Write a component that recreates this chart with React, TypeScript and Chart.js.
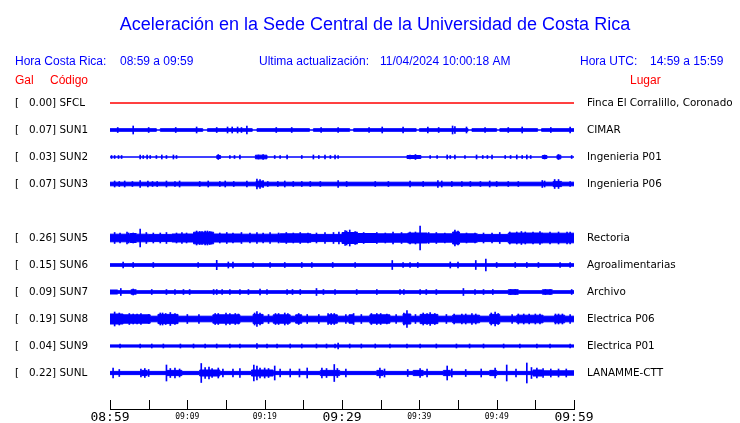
import React, { useEffect, useRef } from 'react';
import { Chart, registerables } from 'chart.js';

Chart.register(...registerables);

const TITLE = 'Aceleración en la Sede Central de la Universidad de Costa Rica';
const HEADER_LOCAL_LABEL = 'Hora Costa Rica:';
const HEADER_LOCAL_RANGE = '08:59 a 09:59';
const HEADER_UPDATE_LABEL = 'Ultima actualización:';
const HEADER_UPDATE_VALUE = '11/04/2024 10:00:18 AM';
const HEADER_UTC_LABEL = 'Hora UTC:';
const HEADER_UTC_RANGE = '14:59 a 15:59';

const CODES = ['SFCL', 'SUN1', 'SUN2', 'SUN3', 'SUN5', 'SUN6', 'SUN7', 'SUN8', 'SUN9', 'SUNL'];
const PEAK_GAL = [0.0, 0.07, 0.03, 0.07, 0.26, 0.15, 0.09, 0.19, 0.04, 0.22];
const PLACES = [
  'Finca El Corralillo, Coronado', 'CIMAR', 'Ingenieria P01', 'Ingenieria P06', 'Rectoria',
  'Agroalimentarias', 'Archivo', 'Electrica P06', 'Electrica P01', 'LANAMME-CTT',
];
const ROW_SLOTS = [0, 1, 2, 3, 5, 6, 7, 8, 9, 10];

// minutes after 08:59
const X_TICKS = [0, 5, 10, 15, 20, 25, 30, 35, 40, 45, 50, 55, 60];
const X_TICK_LABELS = ['08:59', '', '09:09', '', '09:19', '', '09:29', '', '09:39', '', '09:49', '', '09:59'];
const X_MAJOR_LABELS = ['08:59', '09:29', '09:59'];

// envelope breakpoints [minute, half amplitude] and spikes [minute, half amplitude]
const SFCL_ENV: [number, number][] = [[0, 0], [60, 0]];
const SFCL_SPIKES: [number, number][] = [];

const SUN1_ENV: [number, number][] = [[0, 1.3], [6.0, 0], [6.5, 1.3], [12.0, 0], [12.6, 1.3], [18.4, 0], [19.0, 1.3], [25.8, 0], [26.3, 1.3], [31.0, 0], [31.5, 1.3], [39.6, 0], [40.0, 1.3], [46.3, 0], [46.8, 1.3], [50.0, 0], [50.4, 1.3], [55.3, 0], [55.8, 1.3], [60, 1.3]];
const SUN1_SPIKES: [number, number][] = [[1.0, 2.5], [3.0, 4], [5.0, 2.5], [8.5, 2.5], [11.2, 3], [13.8, 2.5], [15.2, 3], [15.8, 3], [16.5, 3], [17.0, 2.5], [17.7, 4], [21.5, 2.5], [23.5, 2.5], [27.3, 2.5], [29.5, 2.5], [33.5, 2.5], [35.2, 3], [37.9, 3], [41.1, 3], [42.5, 2.5], [44.3, 4], [44.6, 3.5], [46.1, 3], [48.5, 2.5], [51.5, 2.5], [53.3, 3], [57.0, 2.5], [59.5, 3]];

const SUN2_ENV: [number, number][] = [[0, 0], [13.8, 1.5], [14.3, 0], [18.8, 1.8], [20.3, 0], [38.4, 1.5], [40.2, 0], [55.9, 1.5], [56.5, 0], [57.8, 1.8], [58.3, 0], [60, 0]];
const SUN2_SPIKES: [number, number][] = [[0.2, 1.5], [0.6, 1.5], [1.1, 1.5], [1.5, 1.5], [3.9, 2], [4.3, 1.5], [4.8, 2], [5.2, 1.5], [6.0, 1.5], [6.7, 2], [7.3, 1.5], [8.2, 2], [8.6, 1.5], [14.0, 2.5], [15.5, 1.5], [16.1, 1.5], [16.8, 2], [19.2, 2], [19.8, 2.5], [21.3, 1.5], [22.0, 1.5], [22.9, 2], [24.8, 1.5], [26.3, 2], [27.0, 1.5], [27.8, 2], [28.5, 1.5], [29.1, 2], [29.5, 1.5], [38.8, 2], [39.5, 2.5], [41.4, 1.5], [42.3, 1.5], [43.6, 2], [44.0, 1.5], [44.6, 2], [45.9, 1.5], [47.4, 2], [48.2, 1.5], [48.8, 1.5], [49.4, 2], [51.1, 1.5], [51.8, 1.5], [52.6, 2], [53.3, 1.5], [53.9, 2], [54.4, 1.5], [56.2, 2], [58.0, 2.5], [59.7, 1.5]];

const SUN3_ENV: [number, number][] = [[0, 1.8], [18.9, 2.8], [19.8, 1.8], [57.3, 2.6], [58.4, 1.8], [60, 1.8]];
const SUN3_SPIKES: [number, number][] = [[0.6, 3], [1.2, 2.5], [1.9, 3], [2.9, 2.5], [3.9, 3.5], [4.9, 3], [5.5, 2.5], [6.1, 2.5], [7.3, 3], [8.4, 2.5], [9.0, 3], [11.6, 2.5], [12.7, 3], [14.2, 2.5], [14.9, 3], [16.0, 2.5], [17.7, 3], [19.0, 5], [19.4, 4.5], [19.8, 3.5], [20.4, 2.5], [21.7, 2.5], [22.6, 3], [23.7, 2.5], [24.8, 2.5], [25.9, 2.5], [27.2, 2.5], [29.5, 3.5], [30.6, 2.5], [34.3, 2.5], [36.0, 2.5], [38.8, 3], [40.5, 2.5], [42.4, 3.5], [42.9, 3], [44.2, 2.5], [45.5, 2.5], [46.6, 2.5], [47.9, 2.5], [49.1, 3], [50.0, 2.5], [51.5, 2.5], [52.8, 2.5], [55.9, 3.5], [56.2, 3], [57.5, 4.5], [58.0, 4.5], [59.5, 2.5]];

const SUN5_ENV: [number, number][] = [[0, 3.8], [2.6, 4.5], [3.4, 3.8], [5.0, 3.6], [8.0, 4.0], [10.8, 5.8], [13.4, 4.0], [17.0, 3.8], [22.0, 4.2], [26.0, 3.6], [30.0, 5.5], [32.0, 4.5], [34.5, 4.2], [38.5, 5.0], [41.0, 4.2], [44.3, 6.0], [45.2, 4.2], [47.5, 3.6], [51.5, 5.0], [56.0, 4.8], [60, 4.8]];
const SUN5_SPIKES: [number, number][] = [[0.6, 5.5], [1.3, 5], [2.2, 6], [2.4, 5], [3.0, 5], [3.9, 9], [4.7, 5.5], [5.6, 5], [6.5, 5], [7.3, 5.5], [8.6, 5], [9.3, 5.5], [9.9, 5], [11.2, 7], [11.6, 6.5], [11.9, 6.5], [12.3, 7], [12.6, 7], [12.9, 6.5], [13.1, 6], [14.2, 5], [15.1, 5.5], [15.9, 5], [17.0, 5.5], [18.1, 5], [19.0, 5.5], [19.8, 5], [20.7, 5.5], [21.8, 5], [22.8, 5.5], [23.7, 5], [24.6, 5.5], [25.6, 5], [26.7, 5], [27.8, 5.5], [28.9, 5.5], [29.6, 6], [30.4, 7.5], [30.6, 7], [31.0, 8], [31.7, 6.5], [31.9, 6], [32.8, 5.5], [34.5, 5.5], [35.6, 5], [36.6, 6], [37.7, 5.5], [38.8, 6], [39.5, 6], [40.1, 12], [41.2, 5.5], [42.2, 5.5], [43.3, 5], [44.6, 8], [45.0, 7], [46.1, 5], [47.2, 5], [48.3, 5], [49.4, 5], [50.4, 5.5], [51.7, 6], [52.6, 6], [53.2, 6.5], [53.7, 6], [54.7, 6], [55.6, 6.5], [56.9, 6], [58.0, 6], [59.1, 6], [59.5, 6]];

const SUN6_ENV: [number, number][] = [[0, 1.3], [60, 1.3]];
const SUN6_SPIKES: [number, number][] = [[1.7, 3], [3.0, 2.5], [5.6, 2.5], [11.4, 2.5], [13.8, 4.7], [15.3, 3], [15.9, 3], [18.5, 2.5], [20.7, 2.5], [22.6, 2.5], [24.8, 2.5], [26.1, 2.5], [28.8, 2.5], [31.7, 2.5], [36.5, 4.5], [37.9, 2.5], [38.8, 2.5], [39.8, 2.5], [44.0, 3], [45.0, 3], [47.3, 4.5], [48.6, 6], [50.0, 2.5], [52.4, 2.5], [53.9, 2.5], [55.4, 2.5], [58.2, 2.5], [59.5, 2.5]];

const SUN7_ENV: [number, number][] = [[0, 2], [1.0, 1.3], [2.7, 2.2], [3.4, 1.3], [51.5, 2.3], [52.8, 1.3], [55.9, 2.2], [57.2, 1.3], [60, 1.3]];
const SUN7_SPIKES: [number, number][] = [[1.4, 3.5], [3.0, 3], [5.4, 2.5], [7.3, 2.5], [8.4, 2.5], [9.5, 2.5], [10.3, 2.5], [13.4, 2.5], [13.8, 2.5], [14.5, 2.5], [15.5, 2.5], [16.8, 2.5], [17.9, 2.5], [19.4, 3], [20.3, 2.5], [22.9, 2.5], [23.6, 2.5], [24.6, 2.5], [26.7, 3.5], [27.6, 2.5], [29.1, 2.5], [31.9, 2.5], [34.5, 2.5], [37.5, 2.5], [38.0, 2.5], [40.1, 2.5], [40.9, 2.5], [42.2, 2.5], [45.7, 3.5], [47.2, 2.5], [48.3, 2.5], [49.5, 2.5], [51.8, 2.5], [52.4, 2.5], [56.3, 2.5], [56.9, 2.5], [59.7, 2.5]];

const SUN8_ENV: [number, number][] = [[0, 5], [1.7, 4.2], [5.2, 2.8], [6.2, 4.6], [8.8, 2.8], [13.3, 4.2], [16.8, 2.8], [18.5, 4.6], [19.8, 2.8], [21.1, 4.2], [23.3, 2.8], [24.0, 4.2], [24.8, 2.8], [28.2, 4.2], [29.4, 2.8], [30.9, 4.2], [31.5, 2.8], [33.6, 4.2], [36.2, 2.8], [37.9, 5], [38.9, 2.8], [40.1, 4.6], [42.4, 2.8], [44.3, 3.8], [47.8, 2.8], [49.1, 4.6], [50.4, 2.8], [52.6, 3.8], [56.0, 2.8], [57.5, 3.8], [58.8, 2.8], [60, 2.8]];
const SUN8_SPIKES: [number, number][] = [[0.6, 7], [1.2, 6], [2.5, 5.5], [3.0, 5], [3.5, 5], [4.0, 5.5], [5.0, 4.5], [6.5, 6], [6.8, 6], [7.2, 5.5], [7.8, 6.5], [8.4, 5.5], [10.0, 4.5], [11.5, 4.5], [13.6, 5.5], [14.0, 5.5], [15.0, 6], [15.5, 5.5], [16.2, 5.5], [16.6, 5], [18.7, 6], [19.0, 7.5], [19.4, 6], [20.5, 4.5], [21.4, 5.5], [21.8, 5.5], [22.6, 6], [23.0, 5.5], [24.4, 5.5], [25.5, 4.5], [27.0, 4.5], [28.2, 5.5], [28.6, 5.5], [29.0, 5.5], [30.5, 4.5], [31.5, 5.5], [32.5, 4.5], [33.8, 5.5], [34.5, 5.5], [35.0, 5.5], [35.8, 5], [37.0, 4.5], [38.0, 6], [38.4, 8.5], [39.5, 4.5], [40.5, 6], [41.0, 5.5], [41.4, 6.5], [42.0, 5.5], [43.5, 4.5], [44.5, 5], [45.5, 5], [46.0, 5], [46.8, 5.5], [47.3, 5], [49.3, 6], [49.8, 7], [50.2, 5.5], [52.0, 4.5], [52.8, 5], [53.5, 5], [54.2, 5], [55.0, 5], [55.6, 5], [57.6, 5], [58.0, 5], [58.5, 5], [59.5, 4.5]];

const SUN9_ENV: [number, number][] = [[0, 1.1], [60, 1.1]];
const SUN9_SPIKES: [number, number][] = [[1.3, 2], [3.9, 2], [5.4, 2], [6.9, 2], [9.1, 2], [10.8, 2], [12.3, 2], [13.8, 2], [15.5, 2], [16.8, 2], [19.0, 2.5], [20.3, 2], [21.6, 2], [23.3, 2], [24.8, 2], [26.7, 2], [28.0, 2], [29.1, 2], [29.5, 2.8], [31.0, 2], [32.5, 2], [34.3, 2], [36.2, 2], [38.4, 2], [40.1, 2], [42.2, 2], [44.8, 2], [46.5, 2], [48.3, 2], [50.9, 2], [53.0, 2], [55.2, 2], [56.9, 2], [59.5, 2]];

const SUNL_ENV: [number, number][] = [[0, 1.6], [4.1, 2.6], [4.8, 1.6], [7.3, 2.6], [9.3, 1.6], [11.6, 3], [14.2, 1.6], [18.3, 3], [21.1, 1.6], [27.2, 2.6], [29.7, 1.6], [34.5, 2.6], [35.3, 1.6], [39.2, 2.6], [40.5, 1.6], [43.1, 2.6], [44.0, 1.6], [49.1, 2.6], [50.0, 1.6], [54.7, 3], [55.9, 2.2], [60, 2.2]];
const SUNL_SPIKES: [number, number][] = [[0.4, 5], [1.2, 3.5], [4.0, 4], [4.5, 4.5], [5.0, 3.5], [7.3, 8], [7.8, 4.5], [8.4, 5], [9.0, 4], [11.8, 9.5], [12.3, 5.5], [12.8, 6], [13.2, 4.5], [14.0, 5], [14.6, 4], [15.9, 4], [16.8, 4.5], [18.6, 8], [19.0, 7], [19.4, 5], [20.0, 5], [20.5, 4.5], [21.3, 7], [22.0, 4], [23.3, 4], [24.5, 4], [25.5, 5], [27.4, 5], [28.0, 4.5], [29.0, 8.5], [29.4, 4.5], [30.5, 4], [34.9, 5], [35.5, 4], [38.5, 3.5], [40.1, 4.5], [41.0, 4], [43.6, 7], [44.2, 4], [46.0, 3.5], [48.0, 4], [49.8, 5], [51.3, 8], [52.5, 4], [53.9, 10], [54.5, 5.5], [55.2, 5], [56.0, 4.5], [57.0, 4], [58.0, 4], [59.0, 4]];

const ENVELOPES = [SFCL_ENV, SUN1_ENV, SUN2_ENV, SUN3_ENV, SUN5_ENV, SUN6_ENV, SUN7_ENV, SUN8_ENV, SUN9_ENV, SUNL_ENV];
const SPIKES = [SFCL_SPIKES, SUN1_SPIKES, SUN2_SPIKES, SUN3_SPIKES, SUN5_SPIKES, SUN6_SPIKES, SUN7_SPIKES, SUN8_SPIKES, SUN9_SPIKES, SUNL_SPIKES];

const BLUE = '#0000ff';
const RED = '#ff0000';
const ROW_COLORS = [RED, BLUE, BLUE, BLUE, BLUE, BLUE, BLUE, BLUE, BLUE, BLUE];
const ROW_SPACING = 27;

const overlayPlugin = {
  id: 'overlay',
  afterDraw(chart: any) {
    const { ctx, scales } = chart;
    const xs = scales.x;
    const ys = scales.y;
    ctx.save();
    ctx.textBaseline = 'alphabetic';
    ctx.textAlign = 'center';
    ctx.fillStyle = BLUE;
    ctx.font = '18px "Liberation Sans", Arial, sans-serif';
    ctx.fillText(TITLE, 375, 30);

    ctx.textAlign = 'left';
    ctx.font = '12px "Liberation Sans", Arial, sans-serif';
    ctx.fillText(HEADER_LOCAL_LABEL, 15, 65);
    ctx.fillText(HEADER_LOCAL_RANGE, 120, 65);
    ctx.fillText(HEADER_UPDATE_LABEL, 259, 65);
    ctx.fillText(HEADER_UPDATE_VALUE, 380, 65);
    ctx.fillText(HEADER_UTC_LABEL, 580, 65);
    ctx.fillText(HEADER_UTC_RANGE, 650, 65);

    ctx.fillStyle = RED;
    ctx.fillText('Gal', 15, 84);
    ctx.fillText('Código', 50, 84);
    ctx.fillText('Lugar', 630, 84);

    ctx.fillStyle = '#000';
    ctx.font = '10.4px "DejaVu Sans", sans-serif';
    ctx.textBaseline = 'middle';
    CODES.forEach((code, i) => {
      const y = ys.getPixelForValue(ROW_SLOTS[i] * ROW_SPACING);
      ctx.fillText(`[   ${PEAK_GAL[i].toFixed(2)}] ${code}`, 15, y);
      ctx.fillText(PLACES[i], 587, y);
    });

    // time axis
    const bottom = Math.round(chart.chartArea.bottom);
    ctx.strokeStyle = '#000';
    ctx.lineWidth = 1;
    ctx.beginPath();
    ctx.moveTo(Math.round(xs.getPixelForValue(X_TICKS[0])), bottom + 0.5);
    ctx.lineTo(Math.round(xs.getPixelForValue(X_TICKS[X_TICKS.length - 1])) + 1, bottom + 0.5);
    X_TICKS.forEach((t) => {
      const px = Math.round(xs.getPixelForValue(t)) + 0.5;
      ctx.moveTo(px, bottom - 9);
      ctx.lineTo(px, bottom + 1);
    });
    ctx.stroke();

    ctx.textAlign = 'center';
    ctx.textBaseline = 'alphabetic';
    X_TICKS.forEach((t, i) => {
      const label = X_TICK_LABELS[i];
      if (!label) return;
      const px = xs.getPixelForValue(t);
      const major = X_MAJOR_LABELS.includes(label);
      ctx.font = major ? '13px "DejaVu Sans Mono", monospace' : '8px "DejaVu Sans Mono", monospace';
      ctx.fillText(label, px, major ? bottom + 12 : bottom + 10);
    });
    ctx.restore();
  },
};

export default function App() {
  const canvasRef = useRef<HTMLCanvasElement | null>(null);

  useEffect(() => {
    const canvas = canvasRef.current;
    if (!canvas) return;
    const datasets: any[] = [];
    CODES.forEach((_, i) => {
      const c = ROW_SLOTS[i] * ROW_SPACING;
      const color = ROW_COLORS[i];
      datasets.push({
        type: 'line',
        data: ENVELOPES[i].map(([x, a]) => ({ x, y: c - a })),
        borderColor: color,
        backgroundColor: color,
        borderWidth: 1,
        pointRadius: 0,
        pointHoverRadius: 0,
        stepped: true,
        fill: false,
      });
      datasets.push({
        type: 'line',
        data: ENVELOPES[i].map(([x, a]) => ({ x, y: c + a })),
        borderColor: color,
        backgroundColor: color,
        borderWidth: 1,
        pointRadius: 0,
        pointHoverRadius: 0,
        stepped: true,
        fill: '-1',
      });
      if (SPIKES[i].length) {
        datasets.push({
          type: 'bar',
          data: SPIKES[i].map(([x, a]) => ({ x, y: [c - a, c + a] })),
          backgroundColor: color,
          borderColor: color,
          borderWidth: 0,
          borderRadius: 0,
          barThickness: 1,
          grouped: false,
        });
      }
    });

    const chart = new Chart(canvas, {
      type: 'bar',
      data: { datasets },
      options: {
        animation: false,
        responsive: false,
        devicePixelRatio: 1,
        events: [],
        elements: { point: { radius: 0, hoverRadius: 0 } },
        layout: { padding: { left: 110, right: 166, top: 90, bottom: 14 } },
        plugins: { legend: { display: false }, tooltip: { enabled: false }, title: { display: false } },
        scales: {
          x: { type: 'linear', min: 0, max: 60, offset: false, display: false, grid: { offset: false } },
          y: { type: 'linear', min: -13, max: 10 * ROW_SPACING + 36, reverse: true, display: false },
        },
      },
      plugins: [overlayPlugin],
    } as any);
    return () => chart.destroy();
  }, []);

  return (
    <div style={{ position: 'fixed', left: 0, top: 0, width: 740, height: 423, background: '#fff' }}>
      <canvas ref={canvasRef} width={740} height={423} style={{ display: 'block' }} />
    </div>
  );
}
